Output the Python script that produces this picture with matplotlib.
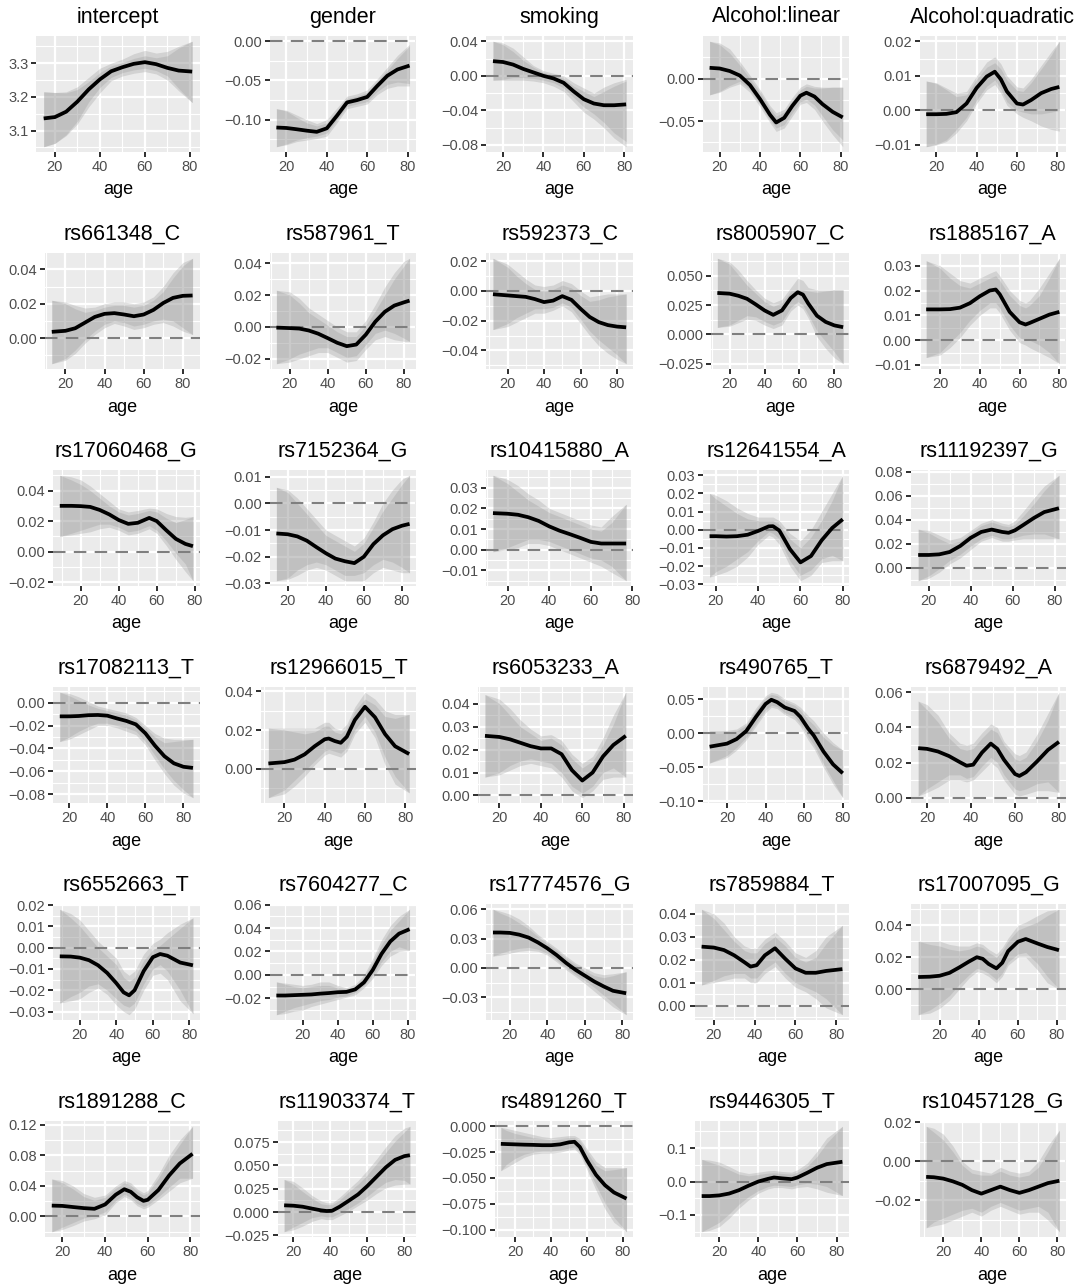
import numpy as np
import matplotlib.pyplot as plt
from matplotlib.ticker import FixedLocator

plt.rcParams["font.family"] = ["Liberation Sans", "DejaVu Sans"]

# ── data: fitted curve, outer band (hi/lo) and inner band (hi2/lo2) per panel ──
TITLES = ["intercept", "gender", "smoking", "Alcohol:linear", "Alcohol:quadratic",
          "rs661348_C", "rs587961_T", "rs592373_C", "rs8005907_C", "rs1885167_A",
          "rs17060468_G", "rs7152364_G", "rs10415880_A", "rs12641554_A", "rs11192397_G",
          "rs17082113_T", "rs12966015_T", "rs6053233_A", "rs490765_T", "rs6879492_A",
          "rs6552663_T", "rs7604277_C", "rs17774576_G", "rs7859884_T", "rs17007095_G",
          "rs1891288_C", "rs11903374_T", "rs4891260_T", "rs9446305_T", "rs10457128_G"]

age_01 = [15, 20, 25, 30, 35, 40, 45, 50, 55, 60, 65, 70, 75, 81]
fit_01 = [3.136, 3.140, 3.156, 3.186, 3.222, 3.252, 3.276, 3.288, 3.298, 3.303, 3.297, 3.286, 3.278, 3.275]
hi_01 = [3.215, 3.213, 3.215, 3.230, 3.258, 3.285, 3.300, 3.312, 3.328, 3.338, 3.330, 3.335, 3.350, 3.365]
lo_01 = [3.052, 3.062, 3.085, 3.120, 3.170, 3.212, 3.248, 3.262, 3.270, 3.275, 3.268, 3.250, 3.218, 3.183]
hi2_01 = [3.215, 3.213, 3.212, 3.222, 3.245, 3.272, 3.292, 3.302, 3.314, 3.322, 3.316, 3.322, 3.345, 3.365]
lo2_01 = [3.052, 3.062, 3.088, 3.128, 3.185, 3.228, 3.258, 3.272, 3.280, 3.285, 3.278, 3.262, 3.225, 3.183]
yt_01 = [3.1, 3.2, 3.3]

age_02 = [15, 20, 25, 30, 35, 40, 45, 50, 55, 60, 65, 70, 75, 81]
fit_02 = [-0.110, -0.1106, -0.1122, -0.114, -0.1155, -0.111, -0.095, -0.078, -0.075, -0.071, -0.057, -0.044, -0.036, -0.031]
hi_02 = [-0.086, -0.088, -0.094, -0.100, -0.105, -0.100, -0.085, -0.070, -0.067, -0.062, -0.048, -0.033, -0.018, -0.004]
lo_02 = [-0.1345, -0.132, -0.128, -0.126, -0.124, -0.121, -0.104, -0.086, -0.083, -0.080, -0.068, -0.060, -0.057, -0.057]
hi2_02 = [-0.086, -0.089, -0.097, -0.104, -0.108, -0.104, -0.089, -0.073, -0.070, -0.065, -0.051, -0.037, -0.022, -0.006]
lo2_02 = [-0.1345, -0.131, -0.126, -0.123, -0.121, -0.117, -0.100, -0.083, -0.080, -0.077, -0.064, -0.055, -0.052, -0.054]
yt_02 = [-0.10, -0.05, 0.00]

age_03 = [15, 20, 25, 30, 35, 40, 45, 50, 55, 60, 65, 70, 75, 81]
fit_03 = [0.017, 0.016, 0.013, 0.008, 0.004, 0.000, -0.003, -0.008, -0.018, -0.027, -0.032, -0.034, -0.034, -0.033]
hi_03 = [0.040, 0.038, 0.032, 0.022, 0.012, 0.006, 0.003, 0.000, -0.008, -0.014, -0.020, -0.013, -0.008, -0.004]
lo_03 = [-0.005, -0.005, -0.005, -0.005, -0.006, -0.008, -0.012, -0.018, -0.030, -0.042, -0.050, -0.060, -0.072, -0.082]
hi2_03 = [0.040, 0.036, 0.028, 0.018, 0.010, 0.004, 0.001, -0.003, -0.012, -0.018, -0.024, -0.018, -0.012, -0.006]
lo2_03 = [-0.005, -0.004, -0.002, -0.002, -0.003, -0.005, -0.008, -0.014, -0.025, -0.036, -0.044, -0.054, -0.066, -0.076]
yt_03 = [-0.08, -0.04, 0.00, 0.04]

age_04 = [15, 20, 25, 30, 35, 40, 45, 48, 52, 56, 60, 63, 67, 71, 76, 81]
fit_04 = [0.0128, 0.012, 0.009, 0.0037, -0.0074, -0.024, -0.0426, -0.0515, -0.046, -0.032, -0.020, -0.0165, -0.021, -0.030, -0.039, -0.0455]
hi_04 = [0.044, 0.042, 0.035, 0.020, 0.004, -0.013, -0.032, -0.040, -0.036, -0.022, -0.010, -0.006, -0.009, -0.010, -0.010, -0.010]
lo_04 = [-0.019, -0.016, -0.010, -0.006, -0.016, -0.033, -0.052, -0.062, -0.058, -0.044, -0.030, -0.028, -0.036, -0.050, -0.066, -0.080]
hi2_04 = [0.044, 0.040, 0.030, 0.016, 0.000, -0.016, -0.035, -0.044, -0.039, -0.026, -0.013, -0.009, -0.011, -0.011, -0.010, -0.010]
lo2_04 = [-0.019, -0.015, -0.008, -0.003, -0.013, -0.030, -0.049, -0.058, -0.054, -0.040, -0.027, -0.024, -0.031, -0.044, -0.060, -0.072]
yt_04 = [-0.05, 0.00]

age_05 = [15, 20, 25, 30, 35, 40, 45, 49, 52, 55, 60, 63, 67, 72, 77, 81]
fit_05 = [-0.0011, -0.0011, -0.001, -0.0005, 0.002, 0.0065, 0.0098, 0.0112, 0.009, 0.0055, 0.002, 0.0017, 0.003, 0.005, 0.0062, 0.0068]
hi_05 = [0.0085, 0.008, 0.0065, 0.005, 0.0055, 0.010, 0.014, 0.0155, 0.0135, 0.010, 0.0068, 0.0065, 0.009, 0.013, 0.017, 0.020]
lo_05 = [-0.0105, -0.010, -0.009, -0.0065, -0.003, 0.002, 0.006, 0.0075, 0.005, 0.0015, -0.001, -0.002, -0.003, -0.0045, -0.0055, -0.006]
hi2_05 = [0.0085, 0.0078, 0.006, 0.004, 0.0045, 0.009, 0.0125, 0.0138, 0.012, 0.0088, 0.0058, 0.0055, 0.008, 0.012, 0.016, 0.020]
lo2_05 = [-0.0105, -0.0098, -0.0085, -0.0055, -0.002, 0.003, 0.007, 0.0088, 0.0062, 0.0025, 0.0, -0.0005, -0.001, -0.001, -0.0005, 0.0]
yt_05 = [-0.01, 0.00, 0.01, 0.02]

age_06 = [13, 20, 25, 30, 35, 40, 45, 50, 55, 60, 65, 70, 75, 80, 85]
fit_06 = [0.0036, 0.0042, 0.0057, 0.009, 0.0123, 0.0141, 0.0145, 0.0137, 0.0127, 0.0137, 0.0164, 0.0204, 0.0234, 0.0246, 0.0248]
hi_06 = [0.022, 0.021, 0.019, 0.0175, 0.018, 0.020, 0.021, 0.021, 0.020, 0.021, 0.024, 0.030, 0.038, 0.044, 0.0465]
lo_06 = [-0.015, -0.013, -0.009, -0.003, 0.002, 0.006, 0.0085, 0.007, 0.005, 0.006, 0.008, 0.009, 0.007, 0.004, 0.002]
hi2_06 = [0.022, 0.020, 0.017, 0.015, 0.016, 0.018, 0.019, 0.019, 0.018, 0.019, 0.022, 0.027, 0.035, 0.042, 0.0465]
lo2_06 = [-0.015, -0.012, -0.007, -0.001, 0.004, 0.008, 0.010, 0.009, 0.007, 0.008, 0.010, 0.011, 0.010, 0.006, 0.002]
yt_06 = [0.00, 0.02, 0.04]

age_07 = [13, 20, 25, 30, 35, 40, 45, 50, 55, 60, 65, 70, 75, 80, 83]
fit_07 = [-0.0004, -0.0007, -0.001, -0.0022, -0.0042, -0.007, -0.0099, -0.012, -0.011, -0.0048, 0.0033, 0.0095, 0.0134, 0.0154, 0.0165]
hi_07 = [0.023, 0.022, 0.018, 0.012, 0.008, 0.004, 0.000, -0.003, -0.003, 0.004, 0.014, 0.025, 0.034, 0.041, 0.043]
lo_07 = [-0.023, -0.022, -0.020, -0.018, -0.016, -0.016, -0.019, -0.022, -0.021, -0.014, -0.008, -0.006, -0.008, -0.009, -0.009]
hi2_07 = [0.023, 0.020, 0.015, 0.009, 0.005, 0.001, -0.003, -0.006, -0.006, 0.001, 0.010, 0.020, 0.030, 0.038, 0.043]
lo2_07 = [-0.023, -0.020, -0.017, -0.015, -0.013, -0.013, -0.016, -0.019, -0.018, -0.011, -0.004, -0.002, -0.004, -0.007, -0.009]
yt_07 = [-0.02, 0.00, 0.02, 0.04]

age_08 = [12, 20, 25, 30, 35, 40, 45, 50, 55, 60, 65, 70, 75, 80, 85]
fit_08 = [-0.0022, -0.003, -0.0035, -0.004, -0.0055, -0.0075, -0.0065, -0.0035, -0.006, -0.012, -0.0175, -0.021, -0.023, -0.024, -0.0245]
hi_08 = [0.022, 0.018, 0.013, 0.008, 0.004, 0.003, 0.004, 0.007, 0.005, 0.000, -0.004, -0.003, -0.002, -0.002, -0.002]
lo_08 = [-0.026, -0.024, -0.021, -0.018, -0.015, -0.015, -0.013, -0.010, -0.014, -0.022, -0.030, -0.037, -0.042, -0.046, -0.049]
hi2_08 = [0.022, 0.016, 0.010, 0.005, 0.001, 0.000, 0.001, 0.004, 0.002, -0.003, -0.007, -0.006, -0.004, -0.003, -0.002]
lo2_08 = [-0.026, -0.022, -0.018, -0.015, -0.012, -0.012, -0.011, -0.008, -0.011, -0.019, -0.027, -0.033, -0.038, -0.043, -0.049]
yt_08 = [-0.04, -0.02, 0.00, 0.02]

age_09 = [13, 20, 25, 30, 35, 40, 45, 50, 55, 59, 62, 65, 70, 75, 80, 85]
fit_09 = [0.0354, 0.0348, 0.033, 0.0304, 0.0256, 0.0205, 0.0167, 0.0205, 0.031, 0.036, 0.034, 0.0265, 0.016, 0.0107, 0.0077, 0.0062]
hi_09 = [0.065, 0.062, 0.055, 0.046, 0.038, 0.031, 0.027, 0.030, 0.040, 0.048, 0.046, 0.040, 0.038, 0.038, 0.038, 0.038]
lo_09 = [0.006, 0.007, 0.010, 0.013, 0.012, 0.008, 0.005, 0.008, 0.020, 0.025, 0.022, 0.014, -0.002, -0.012, -0.020, -0.025]
hi2_09 = [0.065, 0.060, 0.051, 0.042, 0.035, 0.028, 0.024, 0.027, 0.037, 0.038, 0.038, 0.037, 0.036, 0.037, 0.038, 0.038]
lo2_09 = [0.006, 0.008, 0.012, 0.016, 0.015, 0.011, 0.008, 0.011, 0.023, 0.028, 0.025, 0.017, 0.003, -0.006, -0.015, -0.025]
yt_09 = [-0.025, 0.000, 0.025, 0.050]

age_10 = [13, 20, 25, 30, 35, 40, 45, 48, 50, 55, 60, 63, 65, 70, 75, 80]
fit_10 = [0.0124, 0.0124, 0.0125, 0.0131, 0.0149, 0.0177, 0.020, 0.0204, 0.0185, 0.0114, 0.0072, 0.0063, 0.0069, 0.0086, 0.0103, 0.0114]
hi_10 = [0.032, 0.030, 0.027, 0.024, 0.023, 0.025, 0.027, 0.028, 0.026, 0.020, 0.016, 0.015, 0.016, 0.021, 0.027, 0.033]
lo_10 = [-0.007, -0.006, -0.003, 0.001, 0.006, 0.010, 0.013, 0.013, 0.011, 0.004, -0.001, -0.002, -0.003, -0.005, -0.007, -0.0095]
hi2_10 = [0.032, 0.029, 0.025, 0.022, 0.021, 0.023, 0.025, 0.026, 0.024, 0.018, 0.014, 0.013, 0.014, 0.018, 0.025, 0.033]
lo2_10 = [-0.007, -0.005, -0.001, 0.003, 0.008, 0.012, 0.015, 0.015, 0.013, 0.006, 0.001, 0.000, 0.000, -0.002, -0.005, -0.0095]
yt_10 = [-0.01, 0.00, 0.01, 0.02, 0.03]

age_11 = [9, 15, 20, 25, 30, 35, 40, 45, 50, 56, 60, 65, 70, 75, 79]
fit_11 = [0.030, 0.030, 0.0298, 0.0293, 0.0273, 0.0244, 0.0207, 0.0182, 0.0189, 0.0221, 0.020, 0.014, 0.0084, 0.0051, 0.0036]
hi_11 = [0.050, 0.049, 0.047, 0.043, 0.038, 0.033, 0.028, 0.026, 0.027, 0.0285, 0.028, 0.025, 0.023, 0.0225, 0.023]
lo_11 = [0.010, 0.011, 0.012, 0.013, 0.015, 0.016, 0.014, 0.011, 0.012, 0.015, 0.012, 0.004, -0.005, -0.013, -0.019]
hi2_11 = [0.050, 0.047, 0.044, 0.040, 0.035, 0.030, 0.026, 0.024, 0.025, 0.027, 0.026, 0.022, 0.019, 0.021, 0.023]
lo2_11 = [0.010, 0.012, 0.014, 0.016, 0.018, 0.018, 0.016, 0.013, 0.014, 0.017, 0.014, 0.007, -0.001, -0.008, -0.019]
yt_11 = [-0.02, 0.00, 0.02, 0.04]

age_12 = [14, 20, 25, 30, 35, 40, 45, 50, 55, 60, 65, 70, 75, 80, 84]
fit_12 = [-0.0113, -0.0116, -0.0124, -0.014, -0.0164, -0.0187, -0.0207, -0.0217, -0.0224, -0.020, -0.0153, -0.012, -0.0097, -0.0084, -0.0077]
hi_12 = [0.006, 0.005, 0.002, -0.002, -0.006, -0.010, -0.012, -0.014, -0.016, -0.013, -0.007, 0.000, 0.005, 0.009, 0.0105]
lo_12 = [-0.029, -0.0285, -0.027, -0.025, -0.024, -0.025, -0.027, -0.029, -0.029, -0.029, -0.026, -0.024, -0.025, -0.026, -0.026]
hi2_12 = [0.006, 0.004, 0.000, -0.004, -0.008, -0.012, -0.014, -0.016, -0.018, -0.015, -0.009, -0.003, 0.002, 0.007, 0.0105]
lo2_12 = [-0.029, -0.028, -0.025, -0.023, -0.022, -0.023, -0.025, -0.027, -0.027, -0.026, -0.023, -0.021, -0.022, -0.024, -0.026]
yt_12 = [-0.03, -0.02, -0.01, 0.00, 0.01]

age_13 = [13, 20, 25, 30, 35, 40, 45, 50, 55, 60, 65, 70, 77]
fit_13 = [0.0177, 0.0174, 0.0169, 0.0157, 0.0139, 0.0113, 0.0092, 0.0075, 0.0057, 0.0038, 0.003, 0.003, 0.003]
hi_13 = [0.036, 0.034, 0.031, 0.027, 0.024, 0.020, 0.018, 0.016, 0.014, 0.012, 0.011, 0.016, 0.022]
lo_13 = [-0.001, 0.000, 0.001, 0.003, 0.003, 0.002, 0.000, -0.002, -0.004, -0.006, -0.008, -0.011, -0.015]
hi2_13 = [0.036, 0.032, 0.028, 0.024, 0.021, 0.018, 0.016, 0.014, 0.012, 0.010, 0.009, 0.013, 0.022]
lo2_13 = [-0.001, 0.001, 0.003, 0.005, 0.005, 0.004, 0.002, 0.000, -0.002, -0.004, -0.005, -0.008, -0.015]
yt_13 = [-0.01, 0.00, 0.01, 0.02, 0.03]

age_14 = [17, 20, 25, 30, 35, 40, 45, 47, 50, 55, 60, 65, 70, 75, 80]
fit_14 = [-0.0035, -0.0035, -0.0037, -0.0035, -0.0027, -0.0006, 0.0019, 0.002, -0.0004, -0.0106, -0.0179, -0.0144, -0.0058, 0.001, 0.0058]
hi_14 = [0.020, 0.019, 0.016, 0.012, 0.009, 0.007, 0.007, 0.007, 0.005, -0.002, -0.006, 0.000, 0.010, 0.020, 0.030]
lo_14 = [-0.026, -0.025, -0.023, -0.020, -0.015, -0.008, -0.003, -0.004, -0.008, -0.020, -0.028, -0.025, -0.018, -0.017, -0.017]
hi2_14 = [0.020, 0.017, 0.013, 0.009, 0.006, 0.005, 0.005, 0.005, 0.003, -0.005, -0.010, -0.004, 0.005, 0.016, 0.030]
lo2_14 = [-0.026, -0.023, -0.020, -0.016, -0.012, -0.006, -0.001, -0.002, -0.005, -0.017, -0.025, -0.022, -0.016, -0.014, -0.017]
yt_14 = [-0.03, -0.02, -0.01, 0.00, 0.01, 0.02, 0.03]

age_15 = [15, 20, 25, 30, 35, 40, 45, 50, 55, 58, 61, 65, 70, 75, 82]
fit_15 = [0.0105, 0.0105, 0.011, 0.013, 0.018, 0.0248, 0.0297, 0.0317, 0.0297, 0.029, 0.031, 0.0355, 0.0413, 0.0463, 0.0495]
hi_15 = [0.032, 0.031, 0.027, 0.023, 0.025, 0.031, 0.037, 0.040, 0.037, 0.036, 0.039, 0.047, 0.058, 0.068, 0.077]
lo_15 = [-0.011, -0.009, -0.004, 0.003, 0.008, 0.015, 0.022, 0.025, 0.022, 0.022, 0.023, 0.024, 0.024, 0.024, 0.024]
hi2_15 = [0.032, 0.029, 0.024, 0.020, 0.022, 0.029, 0.035, 0.038, 0.035, 0.034, 0.036, 0.043, 0.053, 0.064, 0.077]
lo2_15 = [-0.011, -0.007, -0.001, 0.006, 0.011, 0.018, 0.024, 0.027, 0.024, 0.024, 0.025, 0.027, 0.028, 0.028, 0.024]
yt_15 = [0.00, 0.02, 0.04, 0.06, 0.08]

age_16 = [15, 20, 25, 30, 35, 40, 45, 50, 55, 60, 65, 70, 75, 80, 85]
fit_16 = [-0.012, -0.012, -0.0117, -0.011, -0.0108, -0.0114, -0.0138, -0.016, -0.019, -0.0268, -0.0375, -0.0468, -0.053, -0.056, -0.057]
hi_16 = [0.009, 0.008, 0.005, 0.001, -0.003, -0.005, -0.007, -0.009, -0.013, -0.020, -0.027, -0.031, -0.032, -0.032, -0.032]
lo_16 = [-0.034, -0.032, -0.028, -0.024, -0.020, -0.020, -0.022, -0.025, -0.028, -0.037, -0.050, -0.062, -0.072, -0.079, -0.083]
hi2_16 = [0.009, 0.006, 0.002, -0.002, -0.005, -0.007, -0.009, -0.011, -0.015, -0.022, -0.030, -0.035, -0.034, -0.033, -0.032]
lo2_16 = [-0.034, -0.030, -0.025, -0.021, -0.018, -0.018, -0.020, -0.022, -0.025, -0.034, -0.046, -0.058, -0.068, -0.076, -0.083]
yt_16 = [-0.08, -0.06, -0.04, -0.02, 0.00]

age_17 = [12, 20, 25, 30, 35, 40, 42, 45, 48, 51, 55, 60, 65, 70, 75, 82]
fit_17 = [0.0027, 0.0034, 0.0047, 0.0074, 0.0116, 0.0152, 0.0156, 0.0143, 0.0134, 0.0165, 0.0252, 0.032, 0.0266, 0.0179, 0.0116, 0.0076]
hi_17 = [0.021, 0.021, 0.021, 0.021, 0.021, 0.024, 0.024, 0.021, 0.020, 0.023, 0.032, 0.0395, 0.036, 0.030, 0.028, 0.028]
lo_17 = [-0.015, -0.013, -0.009, -0.004, 0.002, 0.007, 0.008, 0.007, 0.006, 0.009, 0.018, 0.024, 0.016, 0.002, -0.008, -0.0125]
hi2_17 = [0.021, 0.020, 0.019, 0.018, 0.019, 0.022, 0.022, 0.019, 0.018, 0.021, 0.030, 0.036, 0.033, 0.027, 0.026, 0.028]
lo2_17 = [-0.015, -0.011, -0.006, -0.001, 0.004, 0.009, 0.010, 0.009, 0.008, 0.011, 0.020, 0.027, 0.019, 0.006, -0.004, -0.0125]
yt_17 = [0.00, 0.02, 0.04]

age_18 = [13, 20, 25, 30, 35, 40, 45, 50, 55, 60, 65, 70, 75, 81]
fit_18 = [0.026, 0.0255, 0.0245, 0.023, 0.0215, 0.0205, 0.0205, 0.018, 0.011, 0.0065, 0.010, 0.017, 0.022, 0.026]
hi_18 = [0.044, 0.042, 0.038, 0.033, 0.029, 0.026, 0.0265, 0.024, 0.018, 0.014, 0.017, 0.025, 0.035, 0.045]
lo_18 = [0.008, 0.009, 0.011, 0.013, 0.014, 0.013, 0.012, 0.008, 0.002, -0.001, 0.002, 0.007, 0.008, 0.008]
hi2_18 = [0.044, 0.040, 0.035, 0.030, 0.027, 0.024, 0.025, 0.022, 0.016, 0.012, 0.015, 0.022, 0.031, 0.045]
lo2_18 = [0.008, 0.010, 0.013, 0.015, 0.016, 0.015, 0.014, 0.010, 0.004, 0.001, 0.004, 0.010, 0.012, 0.008]
yt_18 = [0.00, 0.01, 0.02, 0.03, 0.04]

age_19 = [11, 20, 25, 30, 35, 40, 43, 46, 50, 55, 58, 62, 65, 70, 75, 80]
fit_19 = [-0.020, -0.0155, -0.0088, 0.003, 0.0237, 0.0428, 0.049, 0.0455, 0.0376, 0.0325, 0.024, 0.007, -0.0036, -0.027, -0.046, -0.059]
hi_19 = [0.003, 0.004, 0.006, 0.015, 0.037, 0.055, 0.060, 0.058, 0.050, 0.044, 0.038, 0.026, 0.018, 0.000, -0.014, -0.025]
lo_19 = [-0.044, -0.036, -0.025, -0.010, 0.010, 0.030, 0.038, 0.036, 0.027, 0.020, 0.010, -0.010, -0.022, -0.050, -0.075, -0.095]
hi2_19 = [0.003, 0.002, 0.003, 0.012, 0.033, 0.052, 0.057, 0.055, 0.047, 0.041, 0.034, 0.020, 0.012, -0.006, -0.018, -0.025]
lo2_19 = [-0.044, -0.033, -0.021, -0.006, 0.014, 0.034, 0.041, 0.039, 0.030, 0.024, 0.014, -0.005, -0.017, -0.045, -0.070, -0.095]
yt_19 = [-0.10, -0.05, 0.00, 0.05]

age_20 = [16, 20, 25, 30, 35, 38, 41, 45, 49, 52, 55, 60, 62, 65, 70, 75, 80]
fit_20 = [0.0282, 0.0278, 0.0263, 0.0237, 0.0202, 0.0182, 0.0188, 0.0257, 0.0308, 0.0278, 0.0216, 0.0135, 0.0124, 0.0145, 0.0206, 0.0272, 0.0318]
hi_20 = [0.055, 0.053, 0.047, 0.037, 0.031, 0.030, 0.031, 0.037, 0.042, 0.040, 0.032, 0.025, 0.024, 0.026, 0.036, 0.048, 0.060]
lo_20 = [0.001, 0.003, 0.006, 0.010, 0.010, 0.009, 0.010, 0.015, 0.020, 0.017, 0.010, 0.002, 0.001, 0.002, 0.004, 0.004, 0.003]
hi2_20 = [0.055, 0.050, 0.043, 0.034, 0.028, 0.027, 0.028, 0.034, 0.039, 0.037, 0.030, 0.022, 0.021, 0.023, 0.032, 0.044, 0.060]
lo2_20 = [0.001, 0.005, 0.009, 0.013, 0.013, 0.011, 0.012, 0.018, 0.023, 0.020, 0.013, 0.005, 0.004, 0.005, 0.008, 0.009, 0.003]
yt_20 = [0.00, 0.02, 0.04, 0.06]

age_21 = [9, 15, 20, 25, 30, 35, 40, 44, 47, 50, 55, 60, 64, 68, 75, 82]
fit_21 = [-0.0041, -0.0042, -0.0047, -0.0059, -0.0083, -0.0119, -0.0167, -0.021, -0.0224, -0.020, -0.011, -0.0045, -0.003, -0.0038, -0.007, -0.0083]
hi_21 = [0.018, 0.016, 0.013, 0.008, 0.003, -0.001, -0.005, -0.011, -0.013, -0.011, -0.003, 0.002, 0.004, 0.007, 0.011, 0.014]
lo_21 = [-0.026, -0.025, -0.024, -0.021, -0.019, -0.022, -0.027, -0.030, -0.0315, -0.029, -0.020, -0.013, -0.012, -0.015, -0.025, -0.031]
hi2_21 = [0.018, 0.014, 0.010, 0.005, 0.000, -0.004, -0.008, -0.014, -0.016, -0.014, -0.006, -0.001, 0.001, 0.004, 0.009, 0.014]
lo2_21 = [-0.026, -0.023, -0.021, -0.018, -0.017, -0.020, -0.024, -0.027, -0.028, -0.026, -0.017, -0.010, -0.008, -0.011, -0.020, -0.031]
yt_21 = [-0.03, -0.02, -0.01, 0.00, 0.01, 0.02]

age_22 = [5, 10, 15, 20, 25, 30, 35, 40, 45, 50, 55, 60, 65, 70, 75, 81]
fit_22 = [-0.0176, -0.0176, -0.0173, -0.017, -0.0167, -0.016, -0.0155, -0.0148, -0.0145, -0.0124, -0.0064, 0.0042, 0.0179, 0.0285, 0.0352, 0.039]
hi_22 = [-0.006, -0.007, -0.008, -0.009, -0.008, -0.006, -0.006, -0.009, -0.011, -0.008, 0.000, 0.014, 0.030, 0.042, 0.050, 0.056]
lo_22 = [-0.034, -0.033, -0.031, -0.030, -0.027, -0.025, -0.023, -0.021, -0.019, -0.017, -0.011, -0.003, 0.008, 0.016, 0.020, 0.021]
hi2_22 = [-0.006, -0.008, -0.010, -0.011, -0.010, -0.009, -0.009, -0.011, -0.012, -0.010, -0.002, 0.011, 0.026, 0.038, 0.046, 0.056]
lo2_22 = [-0.034, -0.031, -0.028, -0.026, -0.024, -0.022, -0.021, -0.019, -0.018, -0.015, -0.009, 0.000, 0.011, 0.020, 0.024, 0.021]
yt_22 = [-0.02, 0.00, 0.02, 0.04, 0.06]

age_23 = [11, 15, 20, 25, 30, 35, 40, 45, 50, 55, 60, 65, 70, 75, 82]
fit_23 = [0.0362, 0.0362, 0.0358, 0.034, 0.031, 0.026, 0.020, 0.013, 0.005, -0.002, -0.008, -0.014, -0.019, -0.0235, -0.026]
hi_23 = [0.060, 0.058, 0.055, 0.050, 0.043, 0.034, 0.027, 0.020, 0.012, 0.005, 0.000, -0.005, -0.007, -0.006, -0.004]
lo_23 = [0.012, 0.013, 0.015, 0.017, 0.018, 0.017, 0.013, 0.006, -0.002, -0.009, -0.016, -0.024, -0.032, -0.040, -0.048]
hi2_23 = [0.060, 0.056, 0.052, 0.046, 0.040, 0.032, 0.025, 0.018, 0.010, 0.003, -0.003, -0.008, -0.010, -0.008, -0.004]
lo2_23 = [0.012, 0.015, 0.018, 0.020, 0.021, 0.019, 0.015, 0.008, 0.000, -0.007, -0.013, -0.020, -0.028, -0.036, -0.048]
yt_23 = [-0.03, 0.00, 0.03, 0.06]

age_24 = [14, 20, 25, 30, 35, 38, 41, 45, 50, 55, 60, 65, 70, 75, 83]
fit_24 = [0.0257, 0.0253, 0.0242, 0.0219, 0.0189, 0.017, 0.0176, 0.0219, 0.025, 0.0204, 0.0162, 0.0143, 0.0143, 0.0151, 0.0159]
hi_24 = [0.042, 0.040, 0.036, 0.030, 0.026, 0.025, 0.025, 0.029, 0.032, 0.028, 0.023, 0.021, 0.024, 0.030, 0.035]
lo_24 = [0.009, 0.010, 0.011, 0.012, 0.012, 0.010, 0.010, 0.014, 0.017, 0.012, 0.008, 0.006, 0.003, -0.001, -0.004]
hi2_24 = [0.042, 0.038, 0.033, 0.028, 0.024, 0.023, 0.023, 0.027, 0.030, 0.026, 0.021, 0.019, 0.021, 0.027, 0.035]
lo2_24 = [0.009, 0.011, 0.013, 0.014, 0.014, 0.012, 0.012, 0.016, 0.019, 0.014, 0.010, 0.008, 0.006, 0.003, -0.004]
yt_24 = [0.00, 0.01, 0.02, 0.03, 0.04]

age_25 = [9, 15, 20, 25, 30, 35, 39, 42, 45, 49, 52, 55, 60, 64, 70, 75, 81]
fit_25 = [0.0076, 0.0078, 0.0084, 0.0102, 0.0136, 0.0173, 0.020, 0.019, 0.0158, 0.013, 0.0165, 0.0238, 0.0297, 0.0314, 0.0286, 0.0264, 0.0244]
hi_25 = [0.030, 0.030, 0.030, 0.028, 0.027, 0.027, 0.029, 0.028, 0.025, 0.022, 0.026, 0.032, 0.040, 0.042, 0.046, 0.049, 0.050]
lo_25 = [-0.016, -0.015, -0.012, -0.007, 0.000, 0.007, 0.011, 0.010, 0.008, 0.004, 0.008, 0.015, 0.020, 0.020, 0.012, 0.004, 0.000]
hi2_25 = [0.030, 0.028, 0.027, 0.025, 0.024, 0.025, 0.027, 0.026, 0.023, 0.020, 0.024, 0.030, 0.037, 0.039, 0.042, 0.046, 0.050]
lo2_25 = [-0.016, -0.013, -0.009, -0.004, 0.003, 0.009, 0.013, 0.012, 0.010, 0.006, 0.010, 0.017, 0.022, 0.023, 0.016, 0.008, 0.000]
yt_25 = [0.00, 0.02, 0.04]

age_26 = [15, 20, 25, 30, 35, 40, 45, 49, 52, 55, 58, 60, 65, 70, 75, 81]
fit_26 = [0.0142, 0.0138, 0.0123, 0.0109, 0.010, 0.0157, 0.0285, 0.0356, 0.0323, 0.0251, 0.0204, 0.0218, 0.0346, 0.0536, 0.0693, 0.082]
hi_26 = [0.049, 0.047, 0.040, 0.030, 0.025, 0.028, 0.040, 0.047, 0.044, 0.036, 0.031, 0.034, 0.055, 0.080, 0.100, 0.118]
lo_26 = [-0.020, -0.017, -0.012, -0.006, -0.003, 0.002, 0.018, 0.026, 0.022, 0.014, 0.010, 0.012, 0.022, 0.033, 0.044, 0.050]
hi2_26 = [0.049, 0.044, 0.036, 0.026, 0.021, 0.025, 0.037, 0.044, 0.041, 0.033, 0.028, 0.031, 0.050, 0.074, 0.094, 0.118]
lo2_26 = [-0.020, -0.014, -0.008, -0.002, 0.001, 0.006, 0.021, 0.029, 0.025, 0.017, 0.013, 0.015, 0.026, 0.038, 0.050, 0.050]
yt_26 = [0.00, 0.04, 0.08, 0.12]

age_27 = [15, 20, 25, 30, 35, 38, 41, 45, 50, 55, 60, 65, 70, 75, 80, 83]
fit_27 = [0.0073, 0.0069, 0.0058, 0.0038, 0.0019, 0.0012, 0.0015, 0.0058, 0.0123, 0.019, 0.028, 0.038, 0.048, 0.056, 0.060, 0.061]
hi_27 = [0.035, 0.033, 0.026, 0.018, 0.012, 0.010, 0.010, 0.016, 0.025, 0.034, 0.045, 0.057, 0.070, 0.082, 0.090, 0.092]
lo_27 = [-0.021, -0.019, -0.015, -0.010, -0.007, -0.008, -0.008, -0.004, 0.001, 0.007, 0.013, 0.020, 0.026, 0.029, 0.030, 0.030]
hi2_27 = [0.035, 0.030, 0.022, 0.015, 0.009, 0.008, 0.008, 0.013, 0.022, 0.030, 0.040, 0.052, 0.064, 0.076, 0.086, 0.092]
lo2_27 = [-0.021, -0.016, -0.011, -0.006, -0.004, -0.005, -0.005, -0.001, 0.004, 0.010, 0.017, 0.025, 0.032, 0.035, 0.034, 0.030]
yt_27 = [-0.025, 0.000, 0.025, 0.050, 0.075]

age_28 = [12, 15, 20, 25, 30, 35, 40, 45, 50, 53, 56, 60, 65, 70, 75, 82]
fit_28 = [-0.017, -0.0172, -0.0175, -0.0178, -0.018, -0.0183, -0.0183, -0.0175, -0.0155, -0.015, -0.020, -0.033, -0.047, -0.057, -0.064, -0.070]
hi_28 = [-0.001, -0.002, -0.004, -0.006, -0.008, -0.010, -0.011, -0.010, -0.009, -0.009, -0.012, -0.022, -0.034, -0.040, -0.040, -0.040]
lo_28 = [-0.043, -0.040, -0.035, -0.030, -0.027, -0.026, -0.026, -0.025, -0.023, -0.022, -0.027, -0.042, -0.062, -0.080, -0.093, -0.102]
hi2_28 = [-0.001, -0.004, -0.007, -0.009, -0.011, -0.012, -0.013, -0.012, -0.011, -0.011, -0.014, -0.025, -0.038, -0.043, -0.042, -0.040]
lo2_28 = [-0.043, -0.037, -0.031, -0.027, -0.025, -0.024, -0.024, -0.023, -0.021, -0.020, -0.025, -0.039, -0.057, -0.074, -0.088, -0.102]
yt_28 = [-0.100, -0.075, -0.050, -0.025, 0.000]

age_29 = [11, 15, 20, 25, 30, 35, 40, 45, 48, 52, 57, 60, 65, 70, 75, 83]
fit_29 = [-0.0435, -0.0435, -0.0415, -0.036, -0.026, -0.0124, 0.000, 0.008, 0.012, 0.0095, 0.007, 0.012, 0.026, 0.041, 0.052, 0.059]
hi_29 = [0.066, 0.064, 0.058, 0.045, 0.030, 0.024, 0.028, 0.032, 0.033, 0.030, 0.028, 0.035, 0.055, 0.090, 0.130, 0.165]
lo_29 = [-0.150, -0.146, -0.135, -0.110, -0.080, -0.055, -0.035, -0.022, -0.018, -0.018, -0.022, -0.018, -0.015, -0.022, -0.032, -0.042]
hi2_29 = [0.066, 0.058, 0.048, 0.035, 0.022, 0.017, 0.021, 0.025, 0.026, 0.024, 0.022, 0.028, 0.045, 0.075, 0.115, 0.165]
lo2_29 = [-0.150, -0.138, -0.122, -0.097, -0.068, -0.045, -0.027, -0.015, -0.011, -0.012, -0.015, -0.010, -0.005, -0.008, -0.015, -0.042]
yt_29 = [-0.1, 0.0, 0.1]

age_30 = [11, 15, 20, 25, 30, 35, 40, 45, 50, 55, 60, 65, 70, 75, 81]
fit_30 = [-0.0079, -0.0081, -0.0088, -0.0102, -0.012, -0.0147, -0.0165, -0.0147, -0.0129, -0.0147, -0.0161, -0.0147, -0.0129, -0.0111, -0.0099]
hi_30 = [0.018, 0.017, 0.014, 0.008, 0.000, -0.004, -0.005, -0.006, -0.003, -0.005, -0.006, -0.005, 0.000, 0.008, 0.016]
lo_30 = [-0.034, -0.033, -0.032, -0.030, -0.028, -0.026, -0.028, -0.025, -0.023, -0.025, -0.027, -0.026, -0.026, -0.030, -0.036]
hi2_30 = [0.018, 0.015, 0.011, 0.005, -0.002, -0.006, -0.007, -0.007, -0.005, -0.007, -0.008, -0.007, -0.003, 0.005, 0.016]
lo2_30 = [-0.034, -0.031, -0.029, -0.027, -0.025, -0.024, -0.026, -0.023, -0.021, -0.023, -0.025, -0.024, -0.023, -0.026, -0.036]
yt_30 = [-0.02, 0.00, 0.02]

XTICKS = [20, 40, 60, 80]

g = globals()
PANELS = []
for k, title in enumerate(TITLES, start=1):
    s = f"{k:02d}"
    rec = [g[f"{n}_{s}"] for n in ("age", "fit", "hi", "lo", "hi2", "lo2")]
    n0 = len(rec[0])
    if any(len(v) != n0 for v in rec):
        raise ValueError(f"{title}: length mismatch {[len(v) for v in rec]}")
    PANELS.append((title, *rec, g[f"yt_{s}"]))

# ── layout (pixels) ────────────────────────────────────────────────────────
W, H, DPI = 1083, 1286, 100
PT = 72 / DPI
COLW = W / 5
ROWP = 217.0

BG = "#EBEBEB"
BAND = "#999999"
TXT = "#4D4D4D"

fig = plt.figure(figsize=(W / DPI, H / DPI), dpi=DPI)


def fmt(vals):
    for d in range(0, 5):
        if all(abs(round(v, d) - v) < 1e-9 for v in vals):
            break
    return [f"{v:.{d}f}".replace("-", "\u2212") for v in vals]


def minors(major, lo, hi):
    step = major[1] - major[0]
    ext = [major[0] - step] + list(major) + [major[-1] + step]
    mids = [(a + b) / 2 for a, b in zip(ext[:-1], ext[1:])]
    return [m for m in mids if lo <= m <= hi]


axes = []
for i, (title, age, fit, hi, lo, hi2, lo2, yt) in enumerate(PANELS):
    r, c = divmod(i, 5)
    y_title = 17 + r * ROWP
    top, bot = y_title + 19, y_title + 135
    right = (c + 1) * COLW - 17
    left = c * COLW + 45
    ax = fig.add_axes([left / W, 1 - bot / H, (right - left) / W, (bot - top) / H])
    ax.set_facecolor(BG)
    for sp in ax.spines.values():
        sp.set_visible(False)

    ax.fill_between(age, lo, hi, color=BAND, alpha=0.3, lw=0, zorder=1)
    ax.fill_between(age, lo2, hi2, color=BAND, alpha=0.3, lw=0, zorder=1.1)
    if i > 0:
        ax.axhline(0, color="#7F7F7F", lw=1.5, ls=(0, (6, 4)), zorder=2)
    ax.plot(age, fit, color="black", lw=2.7, solid_capstyle="butt",
            solid_joinstyle="round", zorder=3)

    span = age[-1] - age[0]
    ax.set_xlim(age[0] - 0.05 * span, age[-1] + 0.05 * span)
    ymin = min(lo + ([0] if i > 0 else []))
    ymax = max(hi + ([0] if i > 0 else []))
    pad = 0.05 * (ymax - ymin)
    ax.set_ylim(ymin - pad, ymax + pad)

    ax.xaxis.set_major_locator(FixedLocator(XTICKS))
    ax.yaxis.set_major_locator(FixedLocator(yt))
    ax.set_xticklabels([str(v) for v in XTICKS])
    ax.set_yticklabels(fmt(yt))
    ax.xaxis.set_minor_locator(FixedLocator(minors(XTICKS, *ax.get_xlim())))
    ax.yaxis.set_minor_locator(FixedLocator(minors(yt, *ax.get_ylim())))
    ax.set_axisbelow(True)
    ax.grid(which="major", color="white", lw=1.6)
    ax.grid(which="minor", color="white", lw=0.8)
    ax.tick_params(which="major", length=5 * PT, width=2 * PT, color="#333333",
                   labelcolor=TXT, labelsize=10.5, pad=3 * PT)
    ax.tick_params(which="minor", length=0)
    axes.append((ax, r, c, y_title, top, bot, right, title))

# fit the left edge of each panel to its own y tick labels, ggplot-style
fig.canvas.draw()
rend = fig.canvas.get_renderer()
for ax, r, c, y_title, top, bot, right, title in axes:
    wlab = max(t.get_window_extent(rend).width for t in ax.get_yticklabels())
    left = c * COLW + 8 + wlab + 3 + 5
    ax.set_position([left / W, 1 - bot / H, (right - left) / W, (bot - top) / H])
    xc = (left + right) / 2
    fig.text(xc / W, 1 - y_title / H, title, ha="center", va="center",
             fontsize=15.5, color="black")
    fig.text(xc / W, 1 - (bot + 38) / H, "age", ha="center", va="center",
             fontsize=13, color="black")

fig.savefig("out.png", dpi=DPI, facecolor="white")
